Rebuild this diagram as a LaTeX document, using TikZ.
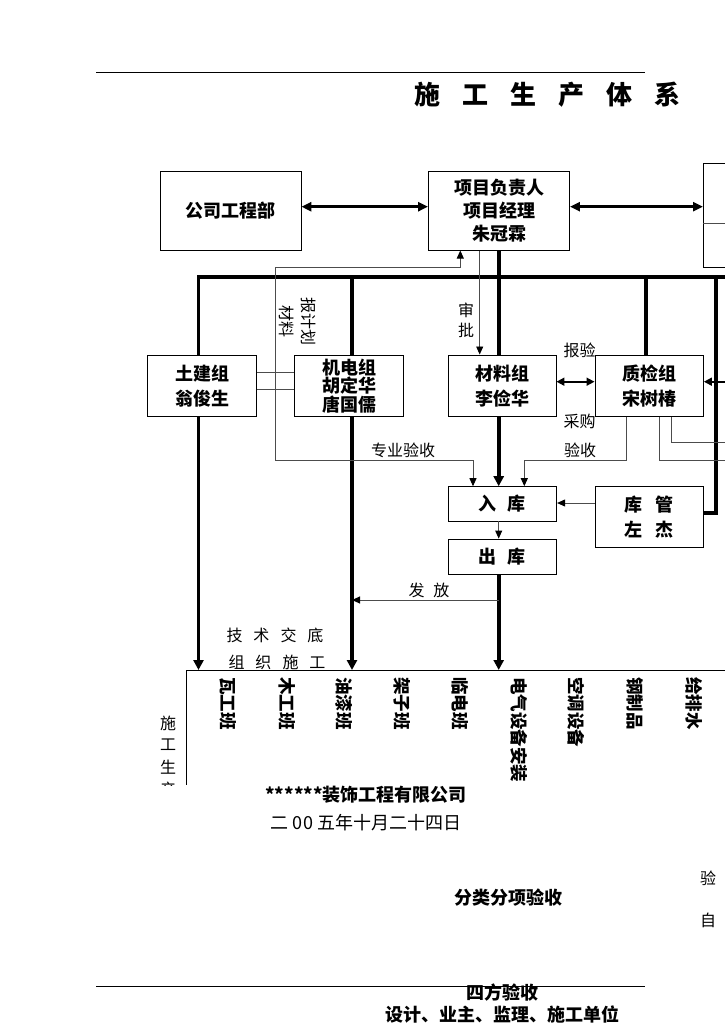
\documentclass[tikz,border=0pt]{standalone}
\usepackage{fontspec}
\setmainfont{Noto Sans CJK SC}
\usetikzlibrary{arrows.meta}
\begin{document}
\begin{tikzpicture}[x=1pt,y=-1pt,
  box/.style={draw=black, line width=0.9pt, fill=white, inner sep=0pt, align=center, font=\bfseries\fontsize{18}{25}\selectfont},
  thk/.style={line width=3.8pt, line join=miter, black},
  thn/.style={draw=black!70, line width=0.9pt},
  ttip/.style={-{Triangle[length=8pt,width=7pt,color=black]}},
  bigtip/.style={-{Triangle[length=10pt,width=10pt]}},
  lbl/.style={font=\fontsize{16}{20}\selectfont, inner sep=0pt, align=center},
  col/.style={font=\bfseries\fontsize{17.5}{17.5}\selectfont, rotate=-90, anchor=west, inner sep=0pt},
  btxt/.style={font=\bfseries\fontsize{18}{18}\selectfont, inner sep=0pt},
]
\useasboundingbox[fill=white] (0,0) rectangle (724,1024);

% header line and title
\coordinate (hl1) at (96,72.3);
\coordinate (hl2) at (645,72.3);
\draw[line width=0.9pt] (hl1) -- (hl2);
\node[font=\bfseries\fontsize{26}{26}\selectfont, inner sep=0pt] (title) at (547.75,95)
  {施\hspace{22pt}工\hspace{22pt}生\hspace{22pt}产\hspace{22pt}体\hspace{22pt}系};

% top row boxes
\node[box, minimum width=140.5, minimum height=78.5] (gs) at (230.7,210.8) {公司工程部};
\node[box, minimum width=141, minimum height=78.5, font=\bfseries\fontsize{18}{23}\selectfont] (xm) at (499,210.8) {项目负责人\\项目经理\\朱冠霖};
\node[box, minimum width=60, minimum height=104, anchor=north west] (rb) at (703,162.7) {};
\coordinate (dv) at (0,223);
\draw[thn] (rb.west |- dv) -- (rb.east |- dv);

\coordinate (ar) at (0,206.7);
\draw[line width=2.8pt, {Triangle[length=10pt,width=9pt]}-{Triangle[length=10pt,width=9pt]}] (gs.east |- ar) -- (xm.west |- ar);
\draw[line width=2.8pt, {Triangle[length=10pt,width=9pt]}-{Triangle[length=10pt,width=9pt]}] (xm.east |- ar) -- (rb.west |- ar);

% second row boxes
\node[box, minimum width=109, minimum height=61.5] (tj) at (202,385.7) {土建组\\翁俊生};
\node[box, minimum width=109, minimum height=61.5, font=\bfseries\fontsize{18}{18.5}\selectfont] (jd) at (349,385.7) {机电组\\胡定华\\唐国儒};
\node[box, minimum width=108, minimum height=61.5] (cl) at (502,385.7) {材料组\\李俭华};
\node[box, minimum width=108.5, minimum height=61.5] (zj) at (649.2,385.7) {质检组\\宋树椿};

% store boxes
\node[box, minimum width=108.7, minimum height=34.3] (rk) at (502.3,503.8) {入\hspace{11pt}库};
\node[box, minimum width=108.7, minimum height=35] (ck) at (502.3,556.5) {出\hspace{11pt}库};
\node[box, minimum width=108, minimum height=60.3] (kg) at (649,516.8) {库\hspace{13pt}管\\左\hspace{13pt}杰};

% bus and thick lines
\coordinate (xA) at (198.5,277);
\coordinate (xB) at (352,277);
\coordinate (xC) at (498.7,277);
\coordinate (xD) at (645.8,277);
\coordinate (xE) at (716,277);
\coordinate (busR) at (740,277);
\coordinate (kgc) at (716,513);
\coordinate (tab) at (186.5,670);
\coordinate (tabR) at (740,670);
\coordinate (tabB) at (186.5,785);

\draw[thk] (tj.north -| xA) -- (xA) -- (busR);
\draw[thk] (xB) -- (jd.north -| xB);
\draw[thk] (xm.south -| xC) -- (cl.north -| xC);
\draw[thk] (xD) -- (zj.north -| xD);
\draw[thk] (xE) -- (kgc) -- (kg.east |- kgc);

\draw[thk, bigtip] (tj.south -| xA) -- (xA |- tab);
\draw[thk, bigtip] (jd.south -| xB) -- (xB |- tab);
\draw[thk, bigtip] (cl.south -| xC) -- (rk.north -| xC);
\draw[thk, bigtip] (ck.south -| xC) -- (xC |- tab);

% thin connectors
\coordinate (h1) at (0,372.7);
\coordinate (h2) at (0,389);
\draw[thn] (tj.east |- h1) -- (jd.west |- h1);
\draw[thn] (tj.east |- h2) -- (jd.west |- h2);

\coordinate (p1) at (460.3,267.3);
\coordinate (p2) at (275,267.3);
\coordinate (p3) at (275,460);
\coordinate (p4) at (473,460);
\draw[thn, {Triangle[length=8pt,width=7pt,color=black]}-{Triangle[length=8pt,width=7pt,color=black]}]
  (xm.south -| p1) -- (p1) -- (p2) -- (p3) -- (p4) -- (rk.north -| p4);

\coordinate (sp) at (479.7,0);
\draw[thn, ttip] (xm.south -| sp) -- (cl.north -| sp);

\coordinate (y382) at (0,381.7);
\coordinate (rr) at (740,381.7);
\draw[line width=1.6pt, {Triangle[length=8pt,width=8pt]}-{Triangle[length=8pt,width=8pt]}] (cl.east |- y382) -- (zj.west |- y382);
\draw[line width=1.6pt, -{Triangle[length=8pt,width=8pt]}] (rr) -- (zj.east |- y382);

\coordinate (q1) at (626.7,460);
\coordinate (q2) at (524.3,460);
\draw[thn, ttip] (zj.south -| q1) -- (q1) -- (q2) -- (rk.north -| q2);
\coordinate (q3) at (659,460);
\coordinate (q4) at (740,460);
\draw[thn] (zj.south -| q3) -- (q3) -- (q4);
\coordinate (q5) at (671.7,442);
\coordinate (q6) at (740,442);
\draw[thn] (zj.south -| q5) -- (q5) -- (q6);

\coordinate (h3) at (0,503);
\draw[thn, ttip] (kg.west |- h3) -- (rk.east |- h3);
\draw[thn, ttip] (rk.south -| xC) -- (ck.north -| xC);
\coordinate (ff) at (498.7,600);
\draw[thn, ttip] (ff) -- (ff -| xB);

% labels
\node[lbl] (l1) at (579.5,350) {报验};
\node[lbl] (l2) at (579.5,421.7) {采购};
\node[lbl] (l3) at (580,450) {验收};
\node[lbl] (l4) at (403,450.7) {专业验收};
\node[lbl] (l5) at (429,590.7) {发\hspace{9pt}放};
\node[lbl, font=\fontsize{16}{20}\selectfont] (l6) at (466,320) {审\\批};
\node[lbl, rotate=-90] (l7) at (309,321) {报计划};
\node[lbl, rotate=-90] (l8) at (287,321.5) {材料};
\node[lbl] (l9) at (275,635) {技\hspace{11pt}术\hspace{11pt}交\hspace{11pt}底};
\node[lbl] (l10) at (277,662) {组\hspace{11pt}织\hspace{11pt}施\hspace{11pt}工};

% table
\draw[line width=0.9pt] (tabR) -- (tab) -- (tabB);
\begin{scope}
\clip (140,671) rectangle (724,785);
\node[col] (c1) at (228.6,677) {瓦工班};
\node[col] (c2) at (287,677) {木工班};
\node[col] (c3) at (344,677) {油漆班};
\node[col] (c4) at (401.8,677) {架子班};
\node[col] (c5) at (460,677) {临电班};
\node[col] (c6) at (518.8,677) {电气设备安装};
\node[col] (c7) at (576.5,677) {空调设备};
\node[col] (c8) at (635,677) {钢制品};
\node[col] (c9) at (693.8,677) {给排水};
\node[lbl] (s1) at (168,723) {施};
\node[lbl] (s2) at (168,745) {工};
\node[lbl] (s3) at (168,767) {生};
\node[lbl] (s4) at (168,789) {产};
\end{scope}

% bottom texts
\node[btxt] (co) at (366,795) {******装饰工程有限公司};
\node[font=\fontsize{18}{18}\selectfont, inner sep=0pt] (dt) at (366,823) {二 00 五年十月二十四日};
\node[btxt] (fl) at (508.6,898) {分类分项验收};
\node[lbl] (y1) at (708,878) {验};
\node[lbl] (y2) at (708,920) {自};
\coordinate (bl1) at (96,986.7);
\coordinate (bl2) at (644.7,986.7);
\draw[line width=0.9pt] (bl1) -- (bl2);
\node[btxt] (sf) at (502,993) {四方验收};
\node[btxt] (sj) at (502,1015) {设计、业主、监理、施工单位};
\end{tikzpicture}
\end{document}
